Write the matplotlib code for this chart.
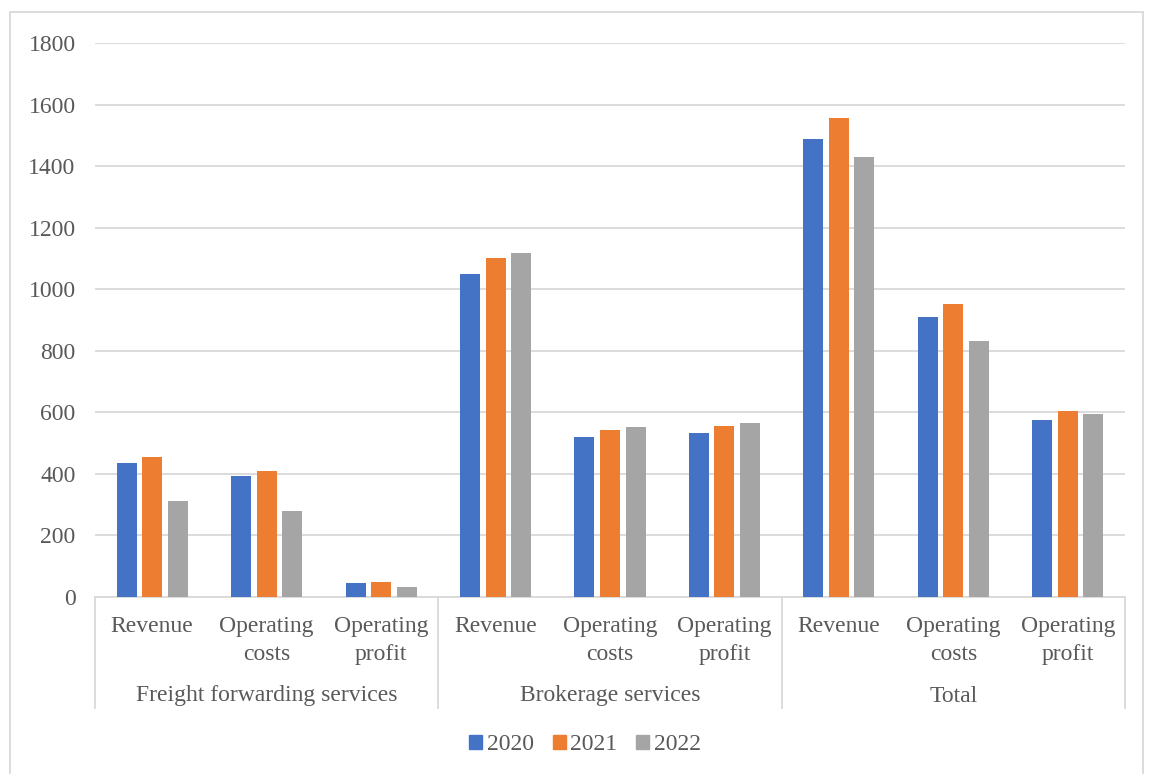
import numpy as np
import matplotlib
matplotlib.use('Agg')
import matplotlib.pyplot as plt
from matplotlib.patches import Patch, Rectangle
from matplotlib.lines import Line2D
import matplotlib.transforms as mtransforms

plt.rcParams['font.family'] = ['Liberation Serif', 'DejaVu Serif']

groups = ['Freight forwarding services', 'Brokerage services', 'Total']
items = ['Revenue', 'Operating\ncosts', 'Operating\nprofit']
years = ['2020', '2021', '2022']
colors = ['#4472c4', '#ed7d31', '#a5a5a5']

v2020 = [437, 393, 44, 1051, 519, 532, 1489, 911, 575]
v2021 = [455, 408, 48, 1101, 544, 556, 1557, 952, 603]
v2022 = [313, 281, 32, 1117, 551, 564, 1429, 833, 596]

W, H = 1155, 774
fs = 17
fig = plt.figure(figsize=(W / 100, H / 100), dpi=100)
ax = fig.add_axes([95 / W, 1 - 597 / H, (1125 - 95) / W, (597 - 43) / H])

x = np.arange(len(v2020))
step = 0.223
bw = 0.175
for i, (vals, c, y) in enumerate(zip([v2020, v2021, v2022], colors, years)):
    ax.bar(x + (i - 1) * step, vals, bw, color=c, label=y, zorder=3)

ax.set_xlim(-0.5, len(x) - 0.5)
ax.set_ylim(0, 1800)
ax.set_yticks(np.arange(0, 1801, 200))
ax.yaxis.grid(True, color='#d9d9d9', lw=1.3, zorder=0)
ax.set_xticks([])
ax.tick_params(axis='y', length=0, labelsize=fs, labelcolor='#595959', pad=14)
for s in ['top', 'right', 'left']:
    ax.spines[s].set_visible(False)
ax.spines['bottom'].set_color('#d9d9d9')
ax.spines['bottom'].set_linewidth(1.3)

trans = mtransforms.blended_transform_factory(ax.transData, fig.transFigure)
for i, xi in enumerate(x):
    ax.text(xi, 1 - 616 / H, items[i % 3], transform=trans, ha='center', va='top',
            fontsize=fs, color='#595959', linespacing=1.45)
for g, name in enumerate(groups):
    ax.text(g * 3 + 1, 1 - 696 / H, name, transform=trans, ha='center', va='center',
            fontsize=fs, color='#595959')
for g in range(len(groups) + 1):
    fig.add_artist(Line2D([g * 3 - 0.5, g * 3 - 0.5], [1 - 597 / H, 1 - 708 / H],
                          transform=trans, color='#d9d9d9', lw=1.3))

fig.add_artist(Rectangle((10 / W, -0.05), (1143 - 10) / W, 1.05 - 12 / H,
                         transform=fig.transFigure, fill=False,
                         edgecolor='#d9d9d9', lw=1.3))

handles = [Patch(color=c, label=y) for c, y in zip(colors, years)]
fig.legend(handles=handles, loc='center', bbox_to_anchor=(585 / W, 1 - 745 / H),
           ncol=3, frameon=False, fontsize=fs, handlelength=0.55, handleheight=0.55,
           handletextpad=0.2, columnspacing=0.8, labelcolor='#595959')

fig.savefig('out.png', dpi=100)
